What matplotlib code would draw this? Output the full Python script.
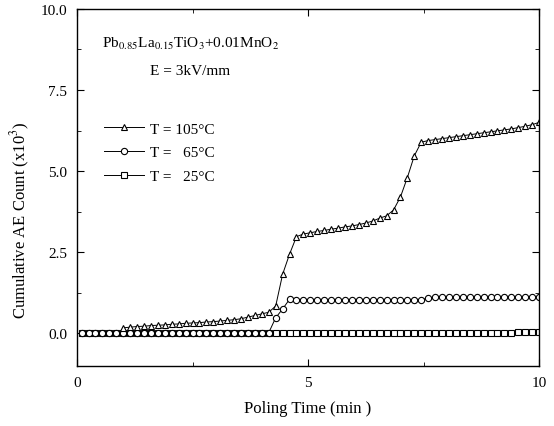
import matplotlib
matplotlib.use("Agg")
import matplotlib.pyplot as plt
from matplotlib.ticker import MultipleLocator, FormatStrFormatter

plt.rcParams['font.family'] = ['Liberation Serif', 'DejaVu Serif']
plt.rcParams['mathtext.fontset'] = 'stix'

# poling time (min), one reading about every 9 s
t_all = [0.10, 0.25, 0.40, 0.55, 0.70, 0.85, 1.00, 1.15, 1.30, 1.45,
         1.60, 1.75, 1.90, 2.05, 2.20, 2.35, 2.50, 2.65, 2.80, 2.95,
         3.10, 3.25, 3.40, 3.55, 3.70, 3.85, 4.00, 4.15, 4.30, 4.45,
         4.60, 4.75, 4.90, 5.05, 5.20, 5.35, 5.50, 5.65, 5.80, 5.95,
         6.10, 6.25, 6.40, 6.55, 6.70, 6.85, 7.00, 7.15, 7.30, 7.45,
         7.60, 7.75, 7.90, 8.05, 8.20, 8.35, 8.50, 8.65, 8.80, 8.95,
         9.10, 9.25, 9.40, 9.55, 9.70, 9.85, 10.00]

# T = 105 C starts recording at 1 min
t_105 = t_all[6:]
ae_105 = [0.17, 0.19, 0.21, 0.22, 0.24, 0.25, 0.26, 0.28, 0.29, 0.31,
          0.32, 0.33, 0.35, 0.36, 0.38, 0.40, 0.42, 0.45, 0.50, 0.55,
          0.60, 0.65, 0.84, 1.82, 2.44, 2.98, 3.06, 3.10, 3.14, 3.17,
          3.21, 3.24, 3.28, 3.31, 3.35, 3.40, 3.46, 3.55, 3.62, 3.80,
          4.20, 4.80, 5.47, 5.89, 5.94, 5.97, 6.00, 6.03, 6.06, 6.09,
          6.12, 6.15, 6.18, 6.21, 6.24, 6.27, 6.30, 6.34, 6.38, 6.43,
          6.50]

ae_65 = [0.00, 0.00, 0.00, 0.00, 0.00, 0.00, 0.00, 0.00, 0.00, 0.00,
         0.00, 0.00, 0.00, 0.00, 0.00, 0.00, 0.00, 0.00, 0.00, 0.00,
         0.00, 0.00, 0.00, 0.00, 0.00, 0.00, 0.01, 0.02, 0.48, 0.75,
         1.05, 1.04, 1.04, 1.03, 1.03, 1.03, 1.03, 1.03, 1.03, 1.03,
         1.03, 1.03, 1.03, 1.03, 1.03, 1.03, 1.03, 1.03, 1.03, 1.04,
         1.08, 1.12, 1.12, 1.12, 1.12, 1.12, 1.12, 1.12, 1.12, 1.12,
         1.12, 1.12, 1.12, 1.12, 1.12, 1.12, 1.13]

ae_25 = [0.00, 0.00, 0.00, 0.00, 0.00, 0.00, 0.00, 0.00, 0.00, 0.00,
         0.00, 0.00, 0.00, 0.00, 0.00, 0.00, 0.00, 0.00, 0.00, 0.00,
         0.00, 0.00, 0.00, 0.00, 0.00, 0.00, 0.00, 0.00, 0.01, 0.01,
         0.01, 0.01, 0.01, 0.01, 0.01, 0.01, 0.01, 0.01, 0.01, 0.01,
         0.01, 0.01, 0.01, 0.01, 0.01, 0.01, 0.01, 0.01, 0.01, 0.01,
         0.02, 0.02, 0.02, 0.02, 0.02, 0.02, 0.02, 0.02, 0.02, 0.02,
         0.02, 0.02, 0.02, 0.03, 0.03, 0.03, 0.04]

labels = ['T = 105°C', 'T =   65°C', 'T =   25°C']

fig = plt.figure(figsize=(5.54, 4.27), dpi=100)
ax = fig.add_axes([0.139, 0.141, 0.834, 0.836])

style = dict(color='black', lw=0.7, mfc='white', mec='black', mew=0.8)
# draw 25 C first so the circles sit on top of the squares
l25, = ax.plot(t_all, ae_25, marker='s', ms=3.8, label=labels[2], **style)
l65, = ax.plot(t_all, ae_65, marker='o', ms=4.5, label=labels[1], **style)
l105, = ax.plot(t_105, ae_105, marker='^', ms=4.3, label=labels[0], **style)

ax.set_xlim(0, 10)
ax.set_ylim(-1.0, 10.0)
ax.set_xticks([0, 5, 10])
ax.xaxis.set_minor_locator(MultipleLocator(2.5))
ax.yaxis.set_major_locator(MultipleLocator(2.5))
ax.yaxis.set_minor_locator(MultipleLocator(1.25))
ax.yaxis.set_major_formatter(FormatStrFormatter('%.1f'))
ax.tick_params(which='both', direction='in', top=True, right=True, labelsize=11)
ax.tick_params(which='major', length=5, pad=7)
ax.tick_params(which='minor', length=3)
for s in ax.spines.values():
    s.set_linewidth(1.0)

ax.set_xlabel('Poling Time (min )', fontsize=12, labelpad=8)
ax.set_ylabel('Cumulative AE Count (x10$^3$)', fontsize=12)
ax.yaxis.set_label_coords(-0.097, 0.41)

# composition and field written inside the plot
ax.text(0.55, 8.95, r'Pb$_{0.85}$La$_{0.15}$TiO$_3$+0.01MnO$_2$', fontsize=11, va='center')
ax.text(2.45, 8.1, 'E = 3kV/mm', fontsize=11, va='center', ha='center')

ax.legend(handles=[l105, l65, l25], loc='upper left', bbox_to_anchor=(0.045, 0.70),
          frameon=False, fontsize=11, handlelength=2.6, handletextpad=0.4,
          labelspacing=0.65, borderaxespad=0)

fig.savefig('out.png', dpi=100)
